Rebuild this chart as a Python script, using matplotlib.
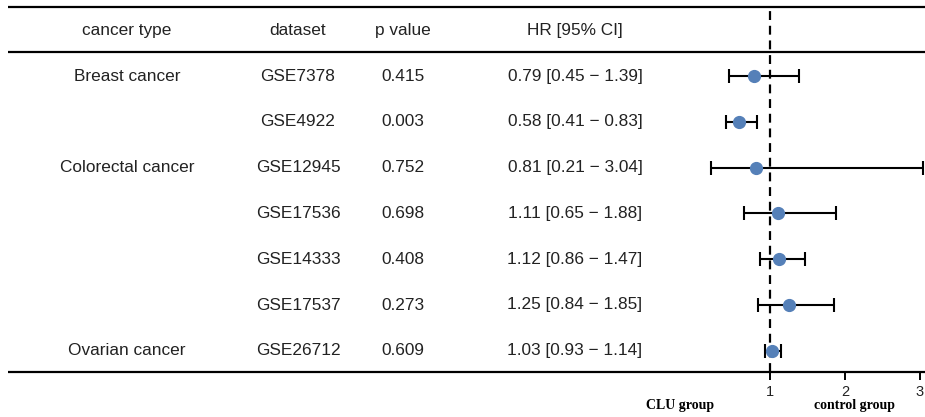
import matplotlib.pyplot as plt
import numpy as np

cancer = ["Breast cancer", "", "Colorectal cancer", "", "", "", "Ovarian cancer"]
datasets = ["GSE7378", "GSE4922", "GSE12945", "GSE17536", "GSE14333", "GSE17537", "GSE26712"]
pvals = ["0.415", "0.003", "0.752", "0.698", "0.408", "0.273", "0.609"]
hr = [0.79, 0.58, 0.81, 1.11, 1.12, 1.25, 1.03]
lo = [0.45, 0.41, 0.21, 0.65, 0.86, 0.84, 0.93]
hi = [1.39, 0.83, 3.04, 1.88, 1.47, 1.85, 1.14]
headers = ["cancer type", "dataset", "p value", "HR [95% CI]"]

W, H = 925, 417
fig = plt.figure(figsize=(W / 100, H / 100), dpi=100)
plt.rcParams['font.family'] = ['Liberation Sans', 'DejaVu Sans']

# table layer in pixel coords
tab = fig.add_axes([0, 0, 1, 1])
tab.set_xlim(0, W)
tab.set_ylim(H, 0)
tab.axis('off')

top, head, bot = 7, 52, 372
for yy in (top, head, bot):
    tab.plot([8, W], [yy, yy], color='black', lw=1.6, solid_capstyle='butt')

col_x = [127, 298, 403, 575]
fs = 12.4
tc = '#222222'
for x, h in zip(col_x, headers):
    tab.text(x, 30, h, ha='center', va='center', fontsize=fs, color=tc)

row_y = 76 + np.arange(len(datasets)) * 45.8
for i, y in enumerate(row_y):
    tab.text(col_x[0], y, cancer[i], ha='center', va='center', fontsize=fs, color=tc)
    tab.text(col_x[1], y, datasets[i], ha='center', va='center', fontsize=fs, color=tc)
    tab.text(col_x[2], y, pvals[i], ha='center', va='center', fontsize=fs, color=tc)
    tab.text(col_x[3], y, f"{hr[i]:.2f} [{lo[i]:.2f} \u2212 {hi[i]:.2f}]",
             ha='center', va='center', fontsize=fs, color=tc)

# forest layer: 1 -> x=770px, 75 px per unit
x0 = 695
fx = fig.add_axes([x0 / W, (H - bot) / H, (W - x0) / W, (bot - top) / H])
fx.set_xlim(0, (W - x0) / 75)
fx.set_ylim(bot, top)
fx.patch.set_alpha(0)
for s in fx.spines.values():
    s.set_visible(False)
fx.set_yticks([])
fx.set_xticks([1, 2, 3])
fx.tick_params(axis='x', direction='out', length=6, width=1.4, labelsize=10.5,
               pad=3, labelcolor=tc)

fx.axvline(1, color='black', lw=1.6, ls=(0, (4, 2.6)))
hr_a = np.array(hr)
fx.errorbar(hr_a, row_y, xerr=[hr_a - np.array(lo), np.array(hi) - hr_a],
            fmt='o', color='black', ecolor='black', elinewidth=1.5, capsize=5,
            capthick=1.5, mfc='#5580b8', mec='#5580b8', ms=8.5, zorder=3)

tab.text(680, 406, "CLU group", ha='center', va='center', fontsize=10,
         family='Liberation Serif', weight='bold')
tab.text(855, 406, "control group", ha='center', va='center', fontsize=10,
         family='Liberation Serif', weight='bold')

fig.savefig("out.png", dpi=100)
